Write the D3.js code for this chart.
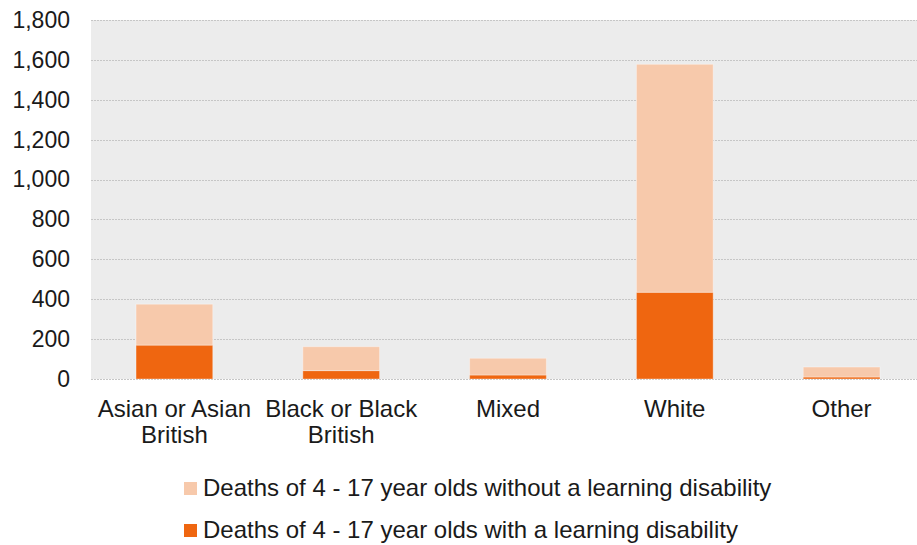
<!DOCTYPE html>
<html>
<head>
<meta charset="utf-8">
<script src="https://cdn.jsdelivr.net/npm/d3@7"></script>
<style>
  html, body { margin: 0; padding: 0; background: #fff; }
  svg { display: block; font-family: "Liberation Sans", Arial, sans-serif; }
</style>
</head>
<body>
<svg id="chart" width="917" height="545"></svg>
<script>
// Ethnic group categories (two-line labels)
const categories = ["Asian or Asian British", "Black or Black British", "Mixed", "White", "Other"];
const categoryLines = [["Asian or Asian", "British"], ["Black or Black", "British"], ["Mixed"], ["White"], ["Other"]];

// Deaths of 4 - 17 year olds, by learning disability status
const withLD = [170, 42, 20, 435, 10];
const withoutLD = [205, 120, 84, 1143, 50];

const seriesNames = [
  "Deaths of 4 - 17 year olds without a learning disability",
  "Deaths of 4 - 17 year olds with a learning disability"
];
const yTicks = [0, 200, 400, 600, 800, 1000, 1200, 1400, 1600, 1800];

const colors = { withLD: "#ef6610", withoutLD: "#f7c9ab" };

const svg = d3.select("#chart");
const plot = { left: 91, right: 925, top: 20, bottom: 379 };

const x = d3.scaleBand().domain(categories).range([plot.left, plot.right]).paddingInner(0.54).paddingOuter(0.27);
const y = d3.scaleLinear().domain([0, 1800]).range([plot.bottom, plot.top]);

// Plot background
svg.append("rect")
  .attr("x", plot.left).attr("y", plot.top)
  .attr("width", plot.right - plot.left).attr("height", plot.bottom - plot.top)
  .attr("fill", "#ececec");

// Gridlines
svg.append("g").selectAll("line").data(yTicks).join("line")
  .attr("x1", plot.left).attr("x2", plot.right)
  .attr("y1", d => Math.round(y(d)) + 0.5).attr("y2", d => Math.round(y(d)) + 0.5)
  .attr("stroke", "#c6c6c6").attr("stroke-width", 1.2).attr("stroke-dasharray", "2,1");

// Y axis labels
const yAxis = d3.axisLeft(y).tickValues(yTicks).tickFormat(d3.format(",")).tickSize(0).tickPadding(21);
const yg = svg.append("g").attr("transform", `translate(${plot.left},0)`).call(yAxis);
yg.select(".domain").remove();
yg.selectAll("text").attr("font-size", 23).attr("fill", "#1a1a1a").attr("font-family", "Liberation Sans, Arial, sans-serif");

// Stacked data
const table = categories.map((c, i) => ({ cat: c, withLD: withLD[i], withoutLD: withoutLD[i] }));
const stack = d3.stack().keys(["withLD", "withoutLD"])(table);

svg.append("g").selectAll("g").data(stack).join("g")
  .attr("fill", d => colors[d.key])
  .selectAll("rect").data(d => d).join("rect")
  .attr("x", d => x(d.data.cat))
  .attr("width", x.bandwidth())
  .attr("y", d => y(d[1]))
  .attr("height", d => y(d[0]) - y(d[1]))
  .attr("stroke", "rgba(255,255,255,0.35)")
  .attr("stroke-width", 1);

// Category labels
const xg = svg.append("g");
categories.forEach((c, i) => {
  const cx = x(c) + x.bandwidth() / 2;
  const t = xg.append("text")
    .attr("x", cx)
    .attr("y", 417)
    .attr("text-anchor", "middle")
    .attr("font-size", 24)
    .attr("fill", "#1a1a1a");
  categoryLines[i].forEach((line, j) => {
    t.append("tspan").attr("x", cx).attr("dy", j === 0 ? 0 : 26).text(line);
  });
});

// Legend
const legendItems = [
  { name: seriesNames[0], color: colors.withoutLD },
  { name: seriesNames[1], color: colors.withLD }
];
const lg = svg.append("g");
legendItems.forEach((item, i) => {
  const yy = 488 + i * 42;
  lg.append("rect").attr("x", 184).attr("y", yy - 6).attr("width", 13).attr("height", 13).attr("fill", item.color);
  lg.append("text").attr("x", 203).attr("y", yy + 8).attr("font-size", 24).attr("fill", "#1a1a1a").text(item.name);
});
</script>
</body>
</html>
